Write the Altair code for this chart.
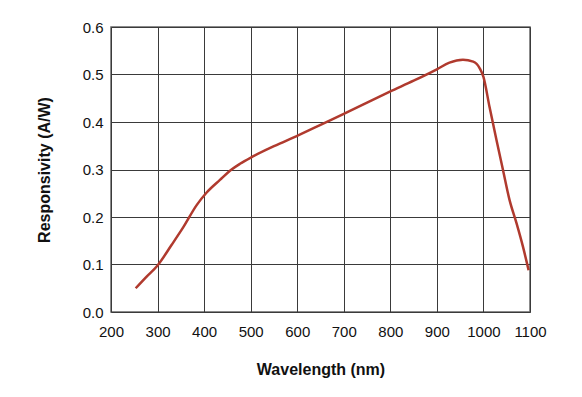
import altair as alt
import pandas as pd

wavelength = [253, 275, 300, 330, 355, 384, 405, 434, 459, 477, 502, 550, 602, 650,
              700, 750, 799, 850, 900, 927, 956, 978, 992, 1000, 1013, 1028, 1042,
              1056, 1071, 1085, 1097]
responsivity = [0.050, 0.073, 0.098, 0.141, 0.178, 0.225, 0.251, 0.278, 0.300, 0.312,
                0.326, 0.349, 0.372, 0.394, 0.417, 0.441, 0.464, 0.487, 0.511, 0.525,
                0.531, 0.527, 0.513, 0.495, 0.432, 0.362, 0.299, 0.236, 0.187, 0.137,
                0.088]

x_ticks = [200, 300, 400, 500, 600, 700, 800, 900, 1000, 1100]
y_ticks = [0.0, 0.1, 0.2, 0.3, 0.4, 0.5, 0.6]

df = pd.DataFrame({"wl": wavelength, "r": responsivity})

font = "Liberation Sans"

chart = alt.Chart(df).mark_line(
    color="#b03a2e", strokeWidth=2.5, interpolate="monotone"
).encode(
    x=alt.X("wl:Q", scale=alt.Scale(domain=[200, 1100], nice=False),
            axis=alt.Axis(values=x_ticks, format="d", title="Wavelength (nm)", grid=True,
                          ticks=False, domain=False, labelPadding=12,
                          labelOverlap=False, labelFlush=False,
                          titlePadding=22)),
    y=alt.Y("r:Q", scale=alt.Scale(domain=[0, 0.6], nice=False),
            axis=alt.Axis(values=y_ticks, format=".1f", title="Responsivity (A/W)",
                          grid=True, ticks=False, domain=False, labelPadding=8,
                          labelOverlap=False, labelFlush=False,
                          titlePadding=30)),
).properties(
    width=419, height=285,
    autosize=alt.AutoSizeParams(type="none"),
    padding={"left": 103, "top": 19, "right": 44, "bottom": 70},
).configure_axis(
    gridColor="#3a3a3a", gridOpacity=1, gridWidth=1,
    labelFont=font, labelFontSize=15, labelColor="#111",
    titleFont=font, titleFontSize=16, titleFontWeight="bold", titleColor="#111",
).configure_view(
    stroke="#666", strokeWidth=1.5
)

chart.save("out.html", embed_options={"renderer": "svg", "actions": False})
